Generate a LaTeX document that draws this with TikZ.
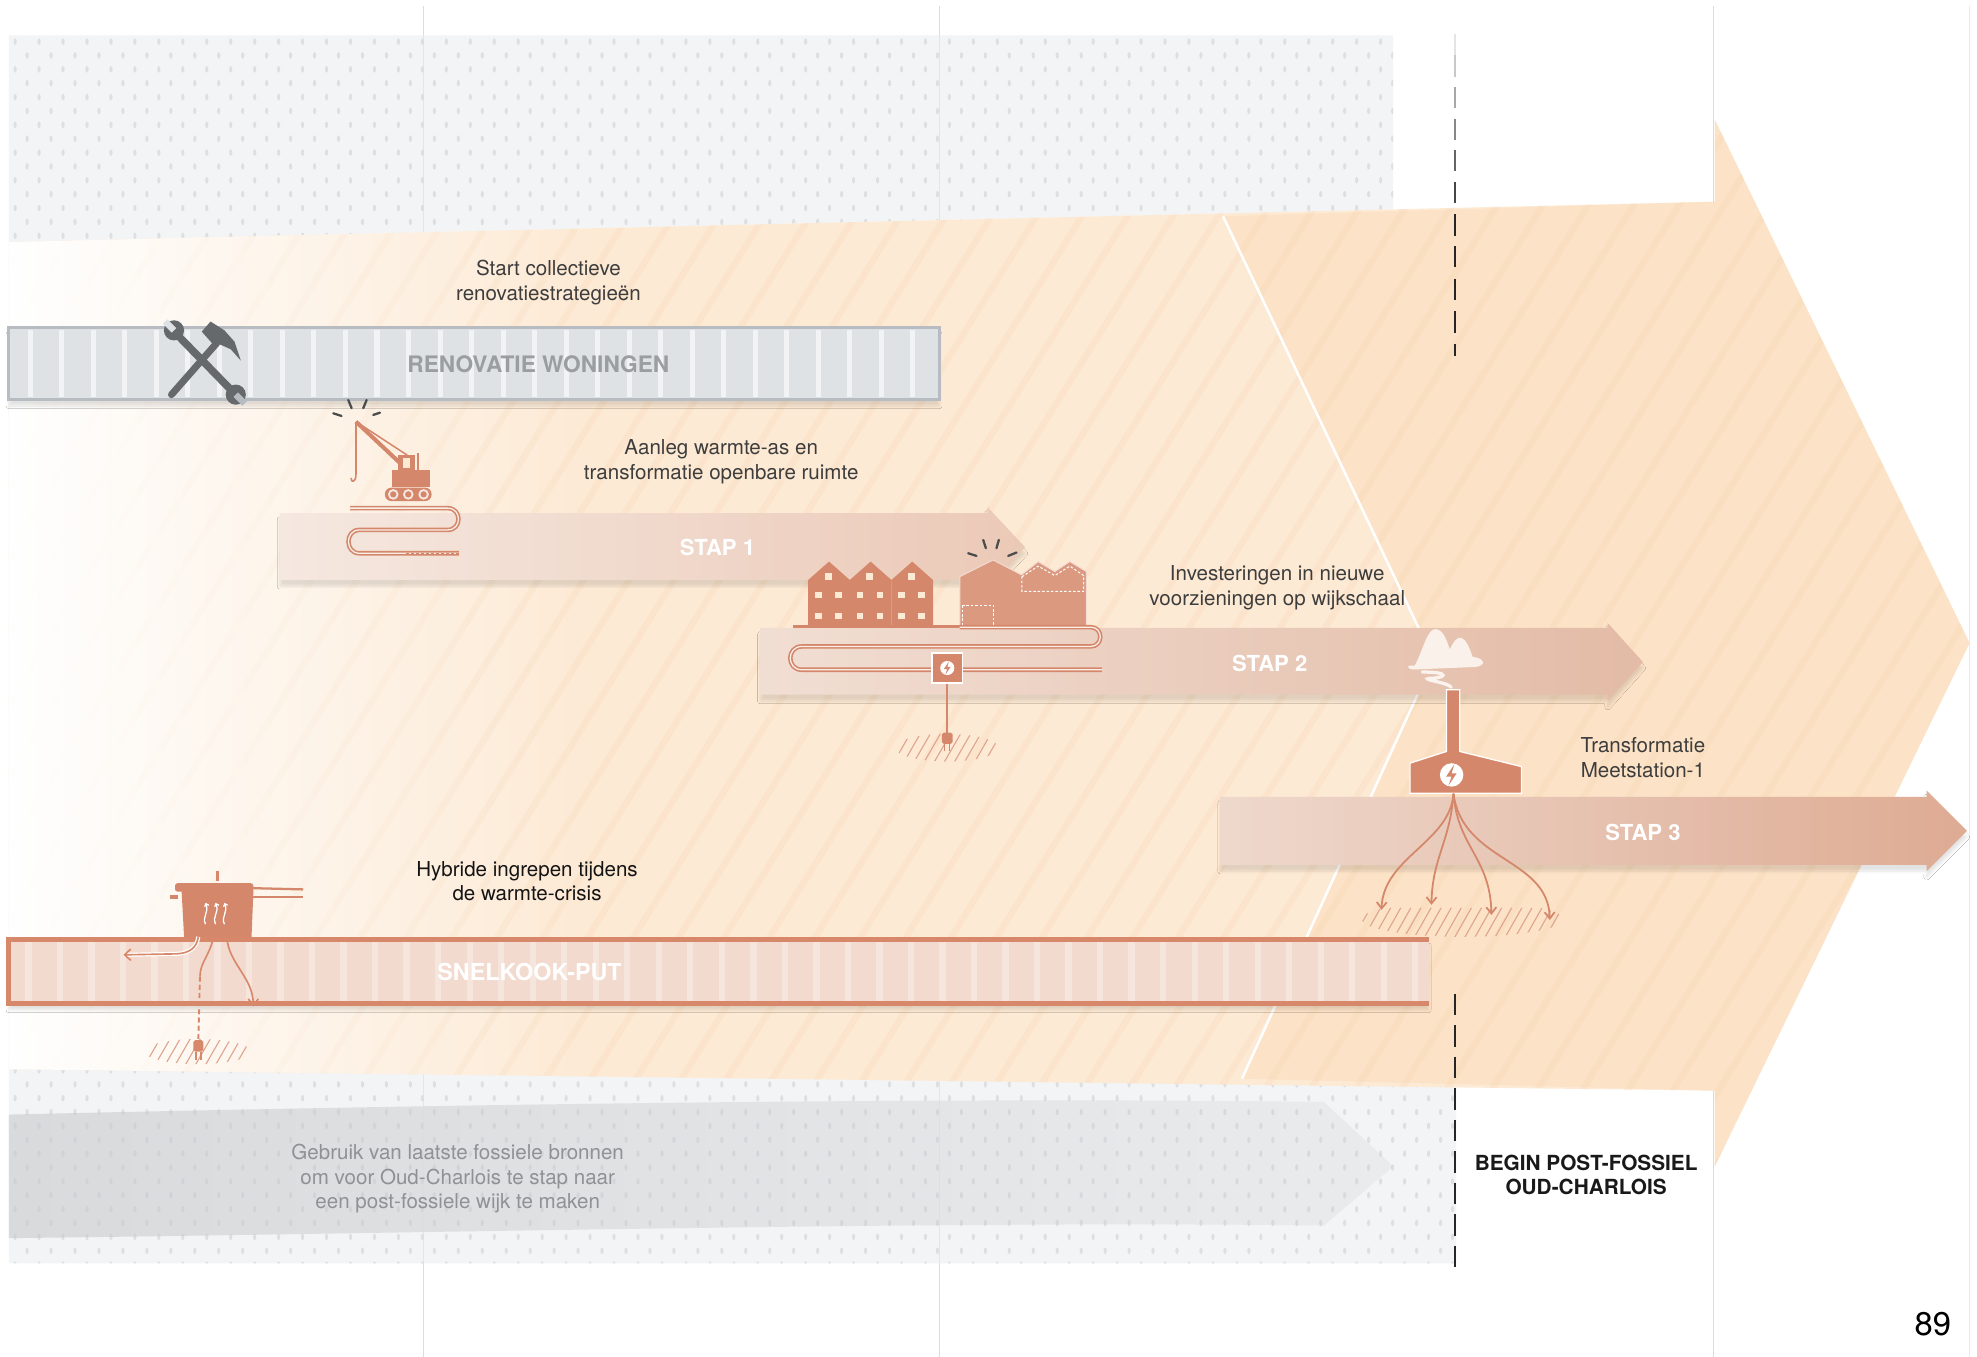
\documentclass[tikz,border=0pt]{standalone}
\usepackage{fontspec}
\setmainfont{TeX Gyre Heros}
\usetikzlibrary{arrows.meta,fadings,shadows.blur}

\definecolor{peachlight}{HTML}{FDEAD5}
\definecolor{peachdeep}{HTML}{FCE2C6}
\definecolor{peachstripe}{HTML}{F6D3B0}
\definecolor{terra}{HTML}{D4876A}
\definecolor{bandgrey}{HTML}{F3F4F5}
\definecolor{dotgrey}{HTML}{C8CBCE}
\definecolor{wavegrey}{HTML}{D8DADC}
\definecolor{bargrey}{HTML}{DEE2E5}
\definecolor{barline}{HTML}{B6BCC2}
\definecolor{toolgrey}{HTML}{66696C}
\definecolor{labelgrey}{HTML}{3D3D3D}
\definecolor{softgrey}{HTML}{8F9295}
\definecolor{renovgrey}{HTML}{9B9EA1}
\definecolor{putfill}{HTML}{F3DACE}
\definecolor{putline}{HTML}{D8886A}
\definecolor{gridline}{HTML}{DCDCDC}
\definecolor{smoke}{HTML}{FBF4EE}
\definecolor{stapAl}{HTML}{F5E8E0}
\definecolor{stapAr}{HTML}{EBC9B7}
\definecolor{stapBl}{HTML}{F1DED3}
\definecolor{stapBr}{HTML}{E3BBA6}
\definecolor{stapCl}{HTML}{EED8CC}
\definecolor{stapCr}{HTML}{DEAB93}

\tikzfading[name=whiteedge, left color=transparent!0, right color=transparent!100]

\tikzset{
  lbl/.style={align=center, text=labelgrey, font=\fontsize{16.3}{19.5}\selectfont},
  stapname/.style={text=white, font=\bfseries\fontsize{17.5}{20}\selectfont},
  coilpipe/.style={draw=terra, line width=1.3pt, double=white!55!putfill, double distance=1pt},
  groundhatch/.style={terra!75, line width=0.9pt},
  spark/.style={black!70, line width=1.8pt, line cap=round},
  rootarrow/.style={terra, line width=1.4pt, -{Straight Barb[length=5pt,width=8pt]}},
  barshadow/.style={blur shadow={shadow xshift=0pt, shadow yshift=-5pt, shadow opacity=11, shadow blur steps=8}},
}

\begin{document}
\begin{tikzpicture}[x=1pt, y=-1pt]
    % Page
    \useasboundingbox (0,0) rectangle (1568,1076);
    \fill[white] (0,0) rectangle (1568,1076);
    \foreach \x in {336,745}
        \draw[gridline, line width=0.8pt] (\x,5) -- (\x,1076);
    \draw[gridline!60, line width=0.8pt] (1562,5) -- (1562,1076);

    % Dotted band on top
    \fill[bandgrey] (7,28) -- (1105,28) -- (1105,166) -- (7,192) -- cycle;
    \begin{scope}
        \clip (7,28) -- (1105,28) -- (1105,166) -- (7,192) -- cycle;
        \foreach \r in {0,...,15}
            \foreach \c in {0,...,58}
                \fill[dotgrey, opacity=0.5] ({12+19*\c+mod(\r,2)*9.5},{33+11*\r}) ellipse (1.3 and 2.6);
    \end{scope}

    % Dotted band at the bottom, with the grey wave
    \fill[bandgrey] (7,846) -- (1155,858) -- (1155,1002) -- (7,1002) -- cycle;
    \shade[left color=wavegrey, right color=wavegrey!35!bandgrey]
        (7,884) .. controls (350,876) and (750,870) .. (1050,874) -- (1105,925)
        -- (1050,972) .. controls (750,968) and (350,978) .. (7,982) -- cycle;
    \begin{scope}
        \clip (7,846) -- (1155,858) -- (1155,1002) -- (7,1002) -- cycle;
        \foreach \r in {0,...,14}
            \foreach \c in {0,...,60}
                \fill[dotgrey, opacity=0.5] ({12+19*\c+mod(\r,2)*9.5},{849+11*\r}) ellipse (1.3 and 2.6);
    \end{scope}
    \foreach \x in {336,745}
        \draw[gridline, line width=0.8pt, opacity=0.6] (\x,5) -- (\x,1076);

    % Big arrow towards the post-fossil district
    \fill[peachlight] (7,192) -- (1360,160) -- (1360,95) -- (1562,510) -- (1360,925) -- (1360,865) -- (7,848) -- cycle;
    \fill[peachdeep] (970,171.5) -- (1360,160) -- (1360,95) -- (1562,510) -- (1360,925) -- (1360,865) -- (985,855.5) -- (1137,523) -- cycle;
    \begin{scope}
        \clip (7,192) -- (1360,160) -- (1360,95) -- (1562,510) -- (1360,925) -- (1360,865) -- (7,848) -- cycle;
        \foreach \x in {-700,-664,...,1580}
            \draw[peachstripe, line width=5pt, opacity=0.25] (\x,940) -- ++(560,-900);
        \fill[white, path fading=whiteedge] (7,0) rectangle (470,1076);
    \end{scope}
    \draw[white, line width=2pt] (970,171.5) -- (1137,523) -- (985,855.5);
    \draw[gridline, line width=0.8pt] (1359,5) -- (1359,161);
    \draw[gridline, line width=0.8pt] (1359,865) -- (1359,1076);

    % Dashed border line
    \foreach \y/\o in {27/0.12, 44/0.25, 69/0.4, 94/0.55, 119/0.7, 144/0.85, 170/1, 195/1, 221/1, 247/1}
        \draw[black!85, line width=2pt, opacity=\o] (1154,\y) -- ++(0,17);
    \draw[black!85, line width=2pt] (1154,273) -- (1154,282);
    \foreach \y in {788,813,...,990}
        \draw[black!85, line width=2pt] (1154,\y) -- ++(0,17);

    % Renovation bar
    \draw[barline, fill=bargrey, line width=2.5pt, barshadow] (7,260) rectangle (745,317);
    \foreach \x in {22,47,...,735}
        \fill[white, opacity=0.6] (\x,262) rectangle ++(4,53);
    \node[font=\bfseries\fontsize{18}{20}\selectfont, text=renovgrey] (renov) at (427,289) {RENOVATIE WONINGEN};

    % Wrench and hammer
    \begin{scope}[toolgrey]
        \draw[line width=6pt, line cap=round] (143,268) -- (182,308);
        \fill (138,262) circle (8);
        \fill (187,313) circle (8);
        \draw[bargrey, line width=5pt] (138,262) -- (131,255);
        \draw[barline, line width=5pt] (187,313) -- (194,320);
        \draw[line width=5.5pt, line cap=round] (136,313) -- (172,272);
        \fill (160,263) -- (167,255) -- (178,262) -- (186,271) -- (191,286) -- (183,277) -- (174,273) -- (168,272) -- cycle;
    \end{scope}

    % Stap 1
    \shade[left color=stapAl, right color=stapAr, barshadow]
        (222,407) -- (783,407) -- (783,402) -- (813,434) -- (783,466) -- (783,460) -- (222,460) -- cycle;
    \node[stapname] (stap1) at (569,434) {STAP 1};

    % Crane
    \draw[spark] (276.2,317.2) -- (278.9,323.8);
    \draw[spark] (290.8,317.2) -- (288.1,323.8);
    \draw[spark] (264.3,327.8) -- (270.9,329.9);
    \draw[spark] (301.3,327.3) -- (296.0,329.1);
    \draw[terra, line width=3.2pt] (282.3,334.4) -- (317,367);
    \draw[terra, line width=1.2pt] (282.3,334.4) -- (323,361);
    \draw[terra, line width=0.9pt] (282.3,334.4) -- (282.3,376);
    \draw[terra, line width=1.3pt] (282.3,376) .. controls (282.5,383) and (278,383) .. (278.5,379);
    \fill[terra] (315.9,360.8) rectangle (329.1,373);
    \fill[terra] (310.6,372.7) rectangle (341,386.5);
    \fill[peachlight] (319.8,363.5) rectangle (325.1,371);
    \draw[terra, line width=1.2pt] (331.7,373) -- (331.7,359.5);
    \fill[terra, rounded corners=5pt] (305.3,386.8) rectangle (342.3,397.4);
    \foreach \x in {311.9,323.8,336}{
        \fill[white!80!terra] (\x,392.1) circle (4.2);
        \fill[terra] (\x,392.1) circle (2.5);
    }
    \draw[coilpipe] (277.6,403) -- (355,403) .. controls (366.5,403) and (366.5,420.3) .. (355,420.3)
        -- (285,420.3) .. controls (273.5,420.3) and (273.5,438.8) .. (285,438.8) -- (364,438.8);
    \draw[terra, line width=1pt, dash pattern=on 2pt off 2pt] (322,438.8) -- (364,438.8);

    % Stap 2
    \shade[left color=stapBl, right color=stapBr, barshadow]
        (603,498) -- (1275,498) -- (1275,494) -- (1303,525) -- (1275,556) -- (1275,551) -- (603,551) -- cycle;
    \node[stapname] (stap2) at (1007,526) {STAP 2};

    % Houses and factory
    \foreach \i in {0,1,2}{
        \fill[terra] ({641+33*\i},495.6) -- ++(0,-35.6) -- ++(16.5,-14.6) -- ++(16.5,14.6) -- ++(0,35.6) -- cycle;
        \fill[peachlight] ({654.2+33*\i},454.6) rectangle ++(5.3,5.3);
        \fill[peachlight] ({646.3+33*\i},469.2) rectangle ++(5.3,5.3);
        \fill[peachlight] ({662.2+33*\i},469.2) rectangle ++(5.3,5.3);
        \fill[peachlight] ({646.3+33*\i},486) rectangle ++(5.3,5.3);
        \fill[peachlight] ({662.2+33*\i},486) rectangle ++(5.3,5.3);
    }
    \fill[terra!85!white, draw=white!70!terra, line width=0.8pt] (761.3,498.3) -- (761.3,457.3) -- (787.7,444.1) -- (810.2,455.9)
        -- (823.4,445.4) -- (836.6,453.3) -- (848.5,445.4) -- (861.7,453.3) -- (861.7,498.3) -- cycle;
    \draw[white, line width=0.8pt, dash pattern=on 2pt off 1.5pt] (763.5,480) rectangle (788,496.5);
    \draw[white, line width=0.8pt, dash pattern=on 2pt off 1.5pt] (810.5,457.5) -- (823.4,449) -- (836.6,456.5)
        -- (848.5,449) -- (859.5,456.5) -- (859.5,469) -- (810.5,469) -- cycle;
    \draw[spark] (779.8,428.2) -- (781.9,434.8);
    \draw[spark] (792.2,428.2) -- (790.3,434.8);
    \draw[spark] (767.9,438.8) -- (774.5,440.9);
    \draw[spark] (806.2,438.2) -- (799.6,440.9);
    \draw[terra, line width=2.2pt] (629,497) -- (762,497);
    \draw[coilpipe] (761,497.4) -- (865,497.4) .. controls (875.2,497.4) and (875.2,512.7) .. (865,512.7)
        -- (636,512.7) .. controls (623.7,512.7) and (623.7,531.2) .. (636,531.2) -- (874,531.2);

    % Electric box with plug into the ground
    \begin{scope}
        \clip (751,593) ellipse (41 and 11);
        \foreach \x in {700,708,...,800}
            \draw[groundhatch] (\x,606) -- ++(15,-26);
    \end{scope}
    \node[draw=white, line width=1.2pt, fill=terra, minimum size=24pt, inner sep=0pt] (ebox) at (751.3,529.8) {};
    \fill[white] (ebox.center) circle (5.6);
    \fill[terra] (752.6,524.6) -- (748.6,530.6) -- (751.2,530.6) -- (749.8,535) -- (753.8,529) -- (751.3,529) -- cycle;
    \coordinate (plugtop) at (751.3,582);
    \draw[terra, line width=1.3pt] (ebox.south) -- (plugtop);
    \fill[terra, rounded corners=1.5pt] (747,581) rectangle (755.5,590);
    \draw[terra, line width=1.1pt] (749.3,590) -- (749.3,596) (753.3,590) -- (753.3,596);

    % Stap 3
    \shade[left color=stapCl, right color=stapCr, barshadow]
        (968,632) -- (1528,632) -- (1528,627) -- (1560,659) -- (1528,691) -- (1528,686) -- (968,686) -- cycle;
    \node[stapname] (stap3) at (1303,660) {STAP 3};

    % Station with chimney and smoke
    \fill[smoke, opacity=0.95] (1122,528) .. controls (1129,515) and (1132,498) .. (1139,499)
        .. controls (1146,500) and (1148,511) .. (1150,515) .. controls (1153,508) and (1156,505) .. (1159,506)
        .. controls (1164,508) and (1166,516) .. (1168,521) .. controls (1178,522) and (1179,528) .. (1170,529)
        -- (1121,531) .. controls (1114,530) and (1116,527) .. cycle;
    \draw[smoke, line width=2.6pt, line cap=round] (1128,533) .. controls (1152,533) and (1146,538) .. (1134,538)
        .. controls (1126,539) and (1148,541) .. (1151,545);
    \begin{scope}
        \clip (1160,729) ellipse (80 and 14);
        \foreach \x in {1070,1078,...,1250}
            \draw[groundhatch] (\x,750) -- ++(17,-30);
    \end{scope}
    \fill[terra, draw=white, line width=1pt] (1118.2,629.2) -- (1118.2,605.3) -- (1147.2,596) -- (1147.2,547)
        -- (1157.8,547) -- (1157.8,596) -- (1206.7,608) -- (1206.7,629.2) -- cycle;
    \fill[white] (1151.3,614.6) circle (9.3);
    \fill[terra] (1153.4,606.3) -- (1147,615.9) -- (1151.2,615.9) -- (1148.9,622.9) -- (1155.3,613.3) -- (1151.3,613.3) -- cycle;
    \coordinate (stationfoot) at (1152.8,629.5);
    \coordinate (root1) at (1095.7,721.6);
    \coordinate (root2) at (1135.3,717.6);
    \coordinate (root3) at (1182.9,725.6);
    \coordinate (root4) at (1229.2,729.6);
    \draw[rootarrow] (stationfoot) .. controls (1150,668) and (1097,680) .. (root1);
    \draw[rootarrow] (stationfoot) .. controls (1150,668) and (1136,680) .. (root2);
    \draw[rootarrow] (stationfoot) .. controls (1156,672) and (1182,680) .. (root3);
    \draw[rootarrow] (stationfoot) .. controls (1160,684) and (1228,680) .. (root4);

    % Snelkook-put bar
    \fill[putfill, barshadow] (7,745) rectangle (1133,796);
    \foreach \x in {20,45,...,1120}
        \fill[white, opacity=0.3] (\x,747) rectangle ++(5,47);
    \draw[putline, line width=4pt] (1133,745) -- (7,745) -- (7,796) -- (1133,796);
    \node[stapname, font=\bfseries\fontsize{18.5}{20}\selectfont] (snelkook) at (420,771) {SNELKOOK-PUT};

    % Pressure cooker
    \fill[terra] (171,691) rectangle (173.6,699);
    \fill[terra, rounded corners=2pt] (138.8,700.5) rectangle (200.9,707.1);
    \fill[terra] (134.8,709.8) rectangle (141,713.2);
    \fill[terra] (144,706) -- (201,706) -- (199.5,743) -- (146,743) -- cycle;
    \draw[terra, line width=1.8pt] (200,704.4) -- (240.5,705.4);
    \draw[terra, line width=1.8pt] (200,711.6) -- (240.5,711.6);
    \foreach \x in {163,171,178}
        \draw[white, line width=1pt, -{Straight Barb[length=2pt,width=3.5pt]}] (\x,733) .. controls ({\x-3},727) and ({\x+3},724) .. (\x,716);
    \coordinate (potfootA) at (157.3,743);
    \coordinate (potfootB) at (169.2,743);
    \coordinate (potfootC) at (179.8,743);
    \coordinate (potleft) at (97.8,757.3);
    \coordinate (cordend) at (158.6,774.5);
    \coordinate (potplug) at (157.3,825);
    \coordinate (potright) at (200.9,798.3);
    \draw[white, line width=3.2pt] (potfootA) .. controls (156,752) and (150,756) .. (140,756.5) -- (potleft);
    \draw[putline, line width=1.3pt, -{Straight Barb[length=5pt,width=9pt]}] (potfootA) .. controls (156,752) and (150,756) .. (140,756.5) -- (potleft);
    \draw[putline, line width=1.3pt] (potfootB) .. controls (167,757) and (158.6,763) .. (cordend);
    \draw[putline, line width=1.5pt, dash pattern=on 4pt off 2.5pt] (cordend) -- (potplug);
    \draw[putline, line width=1.3pt, -{Straight Barb[length=5pt,width=8pt]}] (potfootC) .. controls (181.5,765) and (200.9,775) .. (potright);
    \begin{scope}
        \clip (157,834) ellipse (42 and 10);
        \foreach \x in {105,113,...,205}
            \draw[groundhatch] (\x,848) -- ++(15,-26);
    \end{scope}
    \fill[putline, rounded corners=1.5pt] (153.3,825) rectangle (161.3,834);
    \draw[putline, line width=1.1pt] (155.3,834) -- (155.3,840.5) (159.3,834) -- (159.3,840.5);

    % Labels
    \node[lbl] (startlbl) at (435,224) {Start collectieve\\renovatiestrategieën};
    \node[lbl] (aanleglbl) at (572,366) {Aanleg warmte-as en\\transformatie openbare ruimte};
    \node[lbl] (investlbl) at (1013,466) {Investeringen in nieuwe\\voorzieningen op wijkschaal};
    \node[lbl] (transflbl) at (1303,601) {Transformatie\\Meetstation-1};
    \node[lbl, text=black!92] (hybridelbl) at (418,699) {Hybride ingrepen tijdens\\de warmte-crisis};
    \node[lbl, text=softgrey] (fossiellbl) at (363,935) {Gebruik van laatste fossiele bronnen\\om voor Oud-Charlois te stap naar\\een post-fossiele wijk te maken};
    \node[font=\bfseries\fontsize{16.5}{19.5}\selectfont, align=center, text=black!90] (postfossiel) at (1258,932) {BEGIN POST-FOSSIEL\\OUD-CHARLOIS};
    \node[font=\fontsize{26}{28}\selectfont] (pagenr) at (1533,1050) {89};
\end{tikzpicture}
\end{document}
